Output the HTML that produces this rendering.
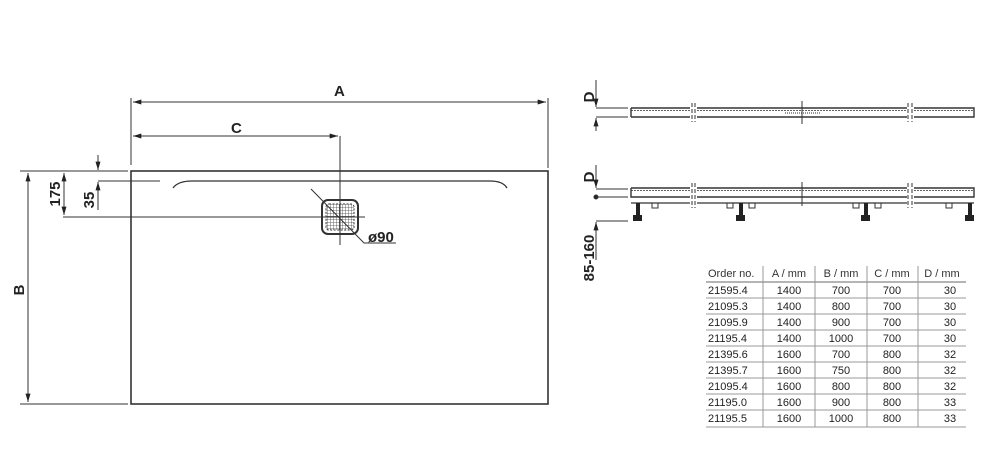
<!DOCTYPE html>
<html><head><meta charset="utf-8"><style>
html,body{margin:0;padding:0;background:#fff;}
svg{display:block;}
text{font-family:"Liberation Sans",sans-serif;fill:#222;}
.b{font-weight:bold;font-size:15px;}
.t{font-size:11px;fill:#333;}
</style></head><body>
<svg width="1000" height="452" viewBox="0 0 1000 452" xmlns="http://www.w3.org/2000/svg">
<defs>
<marker id="ar" viewBox="0 0 10 6" refX="10" refY="3" markerWidth="9" markerHeight="5" orient="auto-start-reverse" markerUnits="userSpaceOnUse"><path d="M0,0 L10,3 L0,6z" fill="#222"/></marker>
<pattern id="grid" width="3" height="3" patternUnits="userSpaceOnUse"><path d="M0,0H3M0,0V3" stroke="#444" stroke-width="0.8"/></pattern>
</defs>
<g stroke="#333" stroke-width="1" fill="none">
<!-- main rect -->
<rect x="131" y="171" width="417" height="233" stroke-width="1.6"/>
<path d="M173,188 Q178,181 192,181 H490 Q503,181 507,188" stroke-width="1.3"/>
<!-- extension lines -->
<line x1="131" y1="98" x2="131" y2="165"/>
<line x1="548" y1="98" x2="548" y2="168"/>
<line x1="340" y1="136" x2="340" y2="245"/>
<line x1="133" y1="102" x2="546" y2="102" marker-start="url(#ar)" marker-end="url(#ar)"/>
<line x1="133" y1="136" x2="338" y2="136" marker-start="url(#ar)" marker-end="url(#ar)"/>
<line x1="20" y1="171" x2="128" y2="171"/>
<line x1="20" y1="404" x2="128" y2="404"/>
<line x1="28" y1="173" x2="28" y2="402" marker-start="url(#ar)" marker-end="url(#ar)"/>
<line x1="63" y1="217" x2="365" y2="217"/>
<line x1="64" y1="173" x2="64" y2="215" marker-start="url(#ar)" marker-end="url(#ar)"/>
<line x1="98" y1="181" x2="160" y2="181"/>
<line x1="98" y1="155" x2="98" y2="170" marker-end="url(#ar)"/>
<line x1="98" y1="210" x2="98" y2="182" marker-end="url(#ar)"/>
<!-- drain -->
<rect x="322" y="200" width="36" height="34" rx="6" stroke-width="2"/>
<rect x="326" y="204" width="28" height="26" rx="3" fill="url(#grid)" stroke-dasharray="2,1.5"/>
<path d="M311,189 L364,243 H396"/>
</g>
<text class="b" x="334" y="96">A</text>
<text class="b" x="231" y="133">C</text>
<text class="b" transform="translate(24,290) rotate(-90)" text-anchor="middle">B</text>
<text class="b" transform="translate(60,194) rotate(-90)" text-anchor="middle">175</text>
<text class="b" transform="translate(94,200) rotate(-90)" text-anchor="middle">35</text>
<text class="b" x="368" y="242">ø90</text>

<!-- right profile top -->
<g stroke="#333" stroke-width="1" fill="none">
<line x1="596" y1="80" x2="596" y2="107" marker-end="url(#ar)"/>
<line x1="596" y1="131" x2="596" y2="118" marker-end="url(#ar)"/>
<line x1="596" y1="108" x2="628" y2="108"/>
<line x1="596" y1="117" x2="628" y2="117"/>
<path d="M631,108 H690 M631,117 H690 M631,108 V117" stroke-width="1.4"/>
<path d="M697,108 H907 M697,117 H907" stroke-width="1.4"/>
<path d="M914,108 H974 V117 H914" stroke-width="1.4"/>
<path d="M631,110.5 H690 M697,110.5 H907 M914,110.5 H974" stroke-dasharray="2,1" stroke-width="0.8"/>
<path d="M692,103 V122 M695,103 V122 M908,103 V122 M912,103 V122" stroke-dasharray="4,2"/>
<line x1="802" y1="101" x2="802" y2="124"/>
<path d="M785,113 L820,113" stroke-dasharray="1,1"/>
<!-- bottom -->
<line x1="596" y1="165" x2="596" y2="188" marker-end="url(#ar)"/>
<line x1="596" y1="260" x2="596" y2="222" marker-end="url(#ar)"/>
<circle cx="596" cy="197" r="2" fill="#222"/>
<line x1="596" y1="189" x2="628" y2="189"/>
<line x1="596" y1="197" x2="628" y2="197"/>
<line x1="596" y1="221" x2="628" y2="221"/>
<path d="M631,188 H690 M697,188 H907 M914,188 H974 V197 H914 M631,188 V197 H690 M697,197 H907" stroke-width="1.4"/>
<path d="M631,203 H690 M697,203 H907 M914,203 H974" stroke-width="1.2"/>
<path d="M631,190.5 H690 M697,190.5 H907 M914,190.5 H974" stroke-dasharray="2,1" stroke-width="0.8"/>
<path d="M692,183 V208 M695,183 V208 M908,183 V208 M912,183 V208" stroke-dasharray="4,2"/>
<line x1="802" y1="182" x2="802" y2="206"/>
<path d="M652,203 V208 H658 V203 M727,203 V208 H733 V203 M749,203 V208 H755 V203 M853,203 V208 H859 V203 M875,203 V208 H881 V203 M946,203 V208 H952 V203"/>
</g>
<g fill="#222">
<rect x="636" y="203" width="4" height="13"/><rect x="633" y="215" width="9" height="6"/>
<rect x="739" y="203" width="4" height="13"/><rect x="736" y="215" width="9" height="6"/>
<rect x="864" y="203" width="4" height="13"/><rect x="861" y="215" width="9" height="6"/>
<rect x="968" y="203" width="4" height="13"/><rect x="965" y="215" width="9" height="6"/>
</g>
<text class="b" transform="translate(594,97) rotate(-90)" text-anchor="middle">D</text>
<text class="b" transform="translate(594,177) rotate(-90)" text-anchor="middle">D</text>
<text class="b" transform="translate(594,258) rotate(-90)" text-anchor="middle">85-160</text>

<!-- table -->
<g stroke="#999" stroke-width="1">
<line x1="706" y1="282" x2="966" y2="282" stroke="#888" stroke-width="1.3"/>
<line x1="706" y1="298" x2="966" y2="298"/>
<line x1="706" y1="314" x2="966" y2="314"/>
<line x1="706" y1="330" x2="966" y2="330"/>
<line x1="706" y1="346" x2="966" y2="346"/>
<line x1="706" y1="362" x2="966" y2="362"/>
<line x1="706" y1="378" x2="966" y2="378"/>
<line x1="706" y1="394" x2="966" y2="394"/>
<line x1="706" y1="410" x2="966" y2="410"/>
<line x1="706" y1="427" x2="966" y2="427"/>
<line x1="763" y1="266" x2="763" y2="427"/>
<line x1="815" y1="266" x2="815" y2="427"/>
<line x1="867" y1="266" x2="867" y2="427"/>
<line x1="918" y1="266" x2="918" y2="427"/>
</g>
<g class="t">
<text class="t" x="708" y="277">Order no.</text>
<text class="t" x="789" y="277" text-anchor="middle">A / mm</text>
<text class="t" x="841" y="277" text-anchor="middle">B / mm</text>
<text class="t" x="892" y="277" text-anchor="middle">C / mm</text>
<text class="t" x="942" y="277" text-anchor="middle">D / mm</text>
</g>
<g font-size="11" fill="#333" font-family="Liberation Sans, sans-serif">
<text x="708" y="294">21595.4</text><text x="789" y="294" text-anchor="middle">1400</text><text x="841" y="294" text-anchor="middle">700</text><text x="892" y="294" text-anchor="middle">700</text><text x="950" y="294" text-anchor="middle">30</text>
<text x="708" y="310">21095.3</text><text x="789" y="310" text-anchor="middle">1400</text><text x="841" y="310" text-anchor="middle">800</text><text x="892" y="310" text-anchor="middle">700</text><text x="950" y="310" text-anchor="middle">30</text>
<text x="708" y="326">21095.9</text><text x="789" y="326" text-anchor="middle">1400</text><text x="841" y="326" text-anchor="middle">900</text><text x="892" y="326" text-anchor="middle">700</text><text x="950" y="326" text-anchor="middle">30</text>
<text x="708" y="342">21195.4</text><text x="789" y="342" text-anchor="middle">1400</text><text x="841" y="342" text-anchor="middle">1000</text><text x="892" y="342" text-anchor="middle">700</text><text x="950" y="342" text-anchor="middle">30</text>
<text x="708" y="358">21395.6</text><text x="789" y="358" text-anchor="middle">1600</text><text x="841" y="358" text-anchor="middle">700</text><text x="892" y="358" text-anchor="middle">800</text><text x="950" y="358" text-anchor="middle">32</text>
<text x="708" y="374">21395.7</text><text x="789" y="374" text-anchor="middle">1600</text><text x="841" y="374" text-anchor="middle">750</text><text x="892" y="374" text-anchor="middle">800</text><text x="950" y="374" text-anchor="middle">32</text>
<text x="708" y="390">21095.4</text><text x="789" y="390" text-anchor="middle">1600</text><text x="841" y="390" text-anchor="middle">800</text><text x="892" y="390" text-anchor="middle">800</text><text x="950" y="390" text-anchor="middle">32</text>
<text x="708" y="406">21195.0</text><text x="789" y="406" text-anchor="middle">1600</text><text x="841" y="406" text-anchor="middle">900</text><text x="892" y="406" text-anchor="middle">800</text><text x="950" y="406" text-anchor="middle">33</text>
<text x="708" y="422">21195.5</text><text x="789" y="422" text-anchor="middle">1600</text><text x="841" y="422" text-anchor="middle">1000</text><text x="892" y="422" text-anchor="middle">800</text><text x="950" y="422" text-anchor="middle">33</text>
</g>
</svg>
</body></html>
